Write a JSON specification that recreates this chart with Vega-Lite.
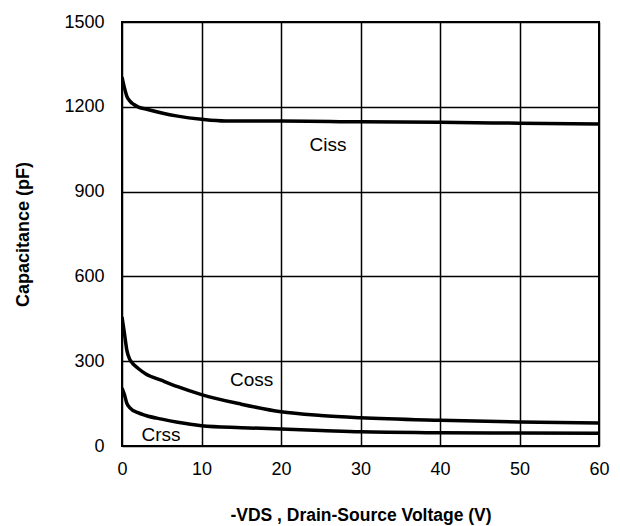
{
  "$schema": "https://vega.github.io/schema/vega-lite/v6.json",
  "width": 477,
  "height": 424,
  "autosize": "none",
  "padding": {"left": 122, "top": 22, "right": 21, "bottom": 80},
  "background": "white",
  "config": {
    "font": "Liberation Sans",
    "view": {"stroke": "black", "strokeWidth": 2},
    "axis": {
      "grid": true, "gridColor": "black", "gridWidth": 1.5, "gridOpacity": 1,
      "domain": false, "ticks": false, "labelFlush": false, "labelOverlap": false, "labelBound": false,
      "labelFont": "Liberation Sans", "labelFontSize": 18, "labelColor": "black", "format": "d",
      "titleFont": "Liberation Sans", "titleFontWeight": "bold", "titleColor": "black"
    }
  },
  "datasets": {
    "curves": [
      {"s": "Ciss", "v": 0, "c": 1305}, {"s": "Ciss", "v": 0.3, "c": 1268}, {"s": "Ciss", "v": 0.6, "c": 1238},
      {"s": "Ciss", "v": 1, "c": 1220}, {"s": "Ciss", "v": 1.5, "c": 1208}, {"s": "Ciss", "v": 2, "c": 1200},
      {"s": "Ciss", "v": 3, "c": 1192}, {"s": "Ciss", "v": 5, "c": 1178}, {"s": "Ciss", "v": 7, "c": 1167},
      {"s": "Ciss", "v": 10, "c": 1156}, {"s": "Ciss", "v": 13, "c": 1150}, {"s": "Ciss", "v": 20, "c": 1150},
      {"s": "Ciss", "v": 30, "c": 1147}, {"s": "Ciss", "v": 40, "c": 1145}, {"s": "Ciss", "v": 50, "c": 1142},
      {"s": "Ciss", "v": 60, "c": 1139},
      {"s": "Coss", "v": 0, "c": 456}, {"s": "Coss", "v": 0.3, "c": 400}, {"s": "Coss", "v": 0.6, "c": 340},
      {"s": "Coss", "v": 1, "c": 305}, {"s": "Coss", "v": 1.3, "c": 293}, {"s": "Coss", "v": 2, "c": 275},
      {"s": "Coss", "v": 3, "c": 255}, {"s": "Coss", "v": 5, "c": 232}, {"s": "Coss", "v": 7, "c": 210},
      {"s": "Coss", "v": 10, "c": 182}, {"s": "Coss", "v": 15, "c": 148}, {"s": "Coss", "v": 20, "c": 121},
      {"s": "Coss", "v": 25, "c": 108}, {"s": "Coss", "v": 30, "c": 100}, {"s": "Coss", "v": 40, "c": 91},
      {"s": "Coss", "v": 50, "c": 85}, {"s": "Coss", "v": 60, "c": 81},
      {"s": "Crss", "v": 0, "c": 205}, {"s": "Crss", "v": 0.3, "c": 182}, {"s": "Crss", "v": 0.6, "c": 152},
      {"s": "Crss", "v": 1, "c": 135}, {"s": "Crss", "v": 2, "c": 118}, {"s": "Crss", "v": 3, "c": 108},
      {"s": "Crss", "v": 5, "c": 95}, {"s": "Crss", "v": 7, "c": 84}, {"s": "Crss", "v": 10, "c": 72},
      {"s": "Crss", "v": 15, "c": 65}, {"s": "Crss", "v": 20, "c": 60}, {"s": "Crss", "v": 25, "c": 55},
      {"s": "Crss", "v": 30, "c": 50}, {"s": "Crss", "v": 40, "c": 47}, {"s": "Crss", "v": 50, "c": 46},
      {"s": "Crss", "v": 60, "c": 45}
    ],
    "labels": [
      {"t": "Ciss", "v": 25.9, "c": 1065},
      {"t": "Coss", "v": 16.3, "c": 235},
      {"t": "Crss", "v": 4.9, "c": 39}
    ]
  },
  "layer": [
    {
      "data": {"name": "curves"},
      "mark": {"type": "line", "color": "black", "strokeWidth": 3.5, "interpolate": "monotone", "clip": true},
      "encoding": {
        "x": {"field": "v", "type": "quantitative",
              "scale": {"domain": [0, 60], "nice": false},
              "axis": {"values": [0, 10, 20, 30, 40, 50, 60], "labelPadding": 14,
                       "title": "-VDS , Drain-Source Voltage (V)", "titleFontSize": 17.5, "titlePadding": 28}},
        "y": {"field": "c", "type": "quantitative",
              "scale": {"domain": [0, 1500], "nice": false},
              "axis": {"values": [0, 300, 600, 900, 1200, 1500], "labelPadding": 18,
                       "title": "Capacitance (pF)", "titleFontSize": 18, "titlePadding": 31}},
        "detail": {"field": "s"}
      }
    },
    {
      "data": {"name": "labels"},
      "mark": {"type": "text", "fontSize": 19, "color": "black", "font": "Liberation Sans"},
      "encoding": {
        "x": {"field": "v", "type": "quantitative"},
        "y": {"field": "c", "type": "quantitative"},
        "text": {"field": "t"}
      }
    }
  ]
}
